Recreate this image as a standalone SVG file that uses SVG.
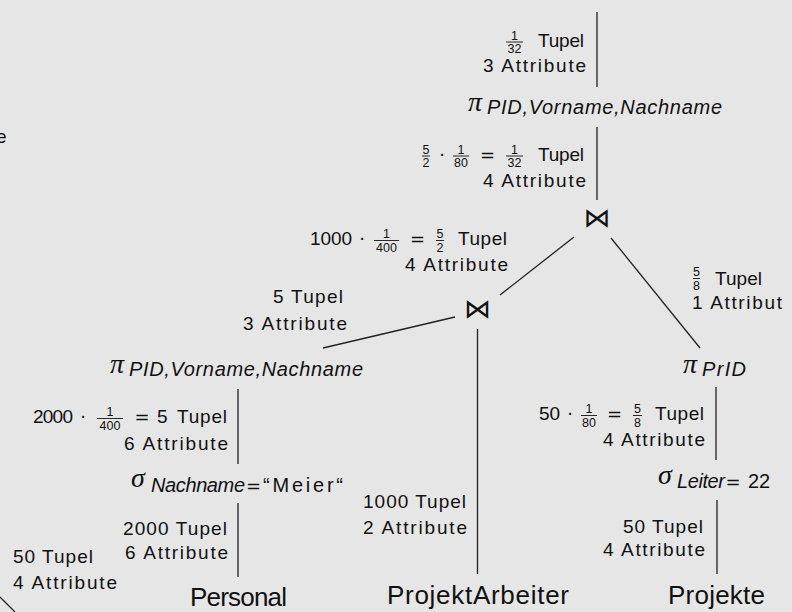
<svg xmlns="http://www.w3.org/2000/svg" width="792" height="612" viewBox="0 0 792 612">
<style>
.t{font-family:"Liberation Sans",Arial,sans-serif;font-size:19px;fill:#111}
.fr{font-size:12.5px;text-anchor:middle}
.it{font-style:italic;font-size:20px}
.g{font-family:"Liberation Serif","Times New Roman",serif;font-style:italic;font-size:28px;fill:#111}
.big{font-size:26px}
.sym{font-family:"DejaVu Sans",sans-serif;font-size:18px;fill:#111;text-anchor:middle}
.bow{font-family:"DejaVu Sans",sans-serif;font-size:27px;fill:#111;text-anchor:middle}
.ln{stroke:#222;stroke-width:1.3;fill:none}
.bar{stroke:#111;stroke-width:0.9}
</style>
<rect width="792" height="612" fill="#e6e6e6"/>

<g id="connectors">
<line class="ln" x1="597" y1="12" x2="597" y2="87"/>
<line class="ln" x1="597" y1="127" x2="597" y2="200"/>
<line class="ln" x1="574" y1="237" x2="500" y2="295"/>
<line class="ln" x1="611" y1="238" x2="700" y2="348"/>
<line class="ln" x1="455" y1="317" x2="323" y2="348"/>
<line class="ln" x1="477.5" y1="329" x2="477.5" y2="574"/>
<line class="ln" x1="238" y1="389" x2="238" y2="464"/>
<line class="ln" x1="238" y1="503" x2="238" y2="577"/>
<line class="ln" x1="716" y1="387" x2="716" y2="460"/>
<line class="ln" x1="717" y1="500" x2="717" y2="574"/>
<line class="ln" x1="0" y1="597" x2="15" y2="612"/>
</g>

<g id="partial-left">
<text class="t" x="-4" y="143">e</text>
</g>

<g id="label-top">
<text class="t fr" x="514.5" y="39.5">1</text><line class="bar" x1="506" y1="42" x2="523" y2="42"/><text class="t fr" x="514.5" y="53">32</text>
<text class="t" x="538" y="46.5" textLength="46" lengthAdjust="spacing">Tupel</text>
<text class="t" x="483" y="71.5" textLength="103" lengthAdjust="spacing">3 Attribute</text>
</g>

<g id="proj-top">
<text class="g" x="468" y="110.5">π</text>
<text class="t it" x="487" y="114" textLength="235" lengthAdjust="spacing">PID,Vorname,Nachname</text>
</g>

<g id="label-b">
<text class="t fr" x="426" y="153.5">5</text><line class="bar" x1="422" y1="156" x2="430" y2="156"/><text class="t fr" x="426" y="167">2</text>
<text class="sym" x="442" y="160.5">·</text>
<text class="t fr" x="461" y="153.5">1</text><line class="bar" x1="453" y1="156" x2="469" y2="156"/><text class="t fr" x="461" y="167">80</text>
<text class="sym" x="487.5" y="160.5">=</text>
<text class="t fr" x="514.5" y="153.5">1</text><line class="bar" x1="506" y1="156" x2="523" y2="156"/><text class="t fr" x="514.5" y="167">32</text>
<text class="t" x="538" y="160.5" textLength="46" lengthAdjust="spacing">Tupel</text>
<text class="t" x="483" y="187" textLength="103" lengthAdjust="spacing">4 Attribute</text>
</g>

<g id="join-top">
<text class="bow" x="597" y="227">⋈</text>
</g>

<g id="label-c">
<text class="t" x="310" y="245" textLength="42" lengthAdjust="spacing">1000</text>
<text class="sym" x="362" y="245">·</text>
<text class="t fr" x="386.5" y="238">1</text><line class="bar" x1="374" y1="240.5" x2="399" y2="240.5"/><text class="t fr" x="386.5" y="251.5">400</text>
<text class="sym" x="417.5" y="245">=</text>
<text class="t fr" x="440" y="238">5</text><line class="bar" x1="436" y1="240.5" x2="444" y2="240.5"/><text class="t fr" x="440" y="251.5">2</text>
<text class="t" x="458" y="245" textLength="49" lengthAdjust="spacing">Tupel</text>
<text class="t" x="405" y="271" textLength="103" lengthAdjust="spacing">4 Attribute</text>
</g>

<g id="label-d">
<text class="t fr" x="696.5" y="276">5</text><line class="bar" x1="693" y1="278.5" x2="700" y2="278.5"/><text class="t fr" x="696.5" y="289.5">8</text>
<text class="t" x="715" y="285" textLength="47" lengthAdjust="spacing">Tupel</text>
<text class="t" x="692" y="309" textLength="90" lengthAdjust="spacing">1 Attribut</text>
</g>

<g id="label-e">
<text class="t" x="273" y="303" textLength="70" lengthAdjust="spacing">5 Tupel</text>
<text class="t" x="243" y="330" textLength="104" lengthAdjust="spacing">3 Attribute</text>
</g>

<g id="join-mid">
<text class="bow" x="477.5" y="318">⋈</text>
</g>

<g id="proj-left">
<text class="g" x="110" y="372.5">π</text>
<text class="t it" x="129" y="376" textLength="234" lengthAdjust="spacing">PID,Vorname,Nachname</text>
</g>

<g id="proj-right">
<text class="g" x="683" y="372.5">π</text>
<text class="t it" x="702" y="376" textLength="44" lengthAdjust="spacing">PrID</text>
</g>

<g id="label-g">
<text class="t" x="33" y="423" textLength="40" lengthAdjust="spacing">2000</text>
<text class="sym" x="83" y="423">·</text>
<text class="t fr" x="110" y="416">1</text><line class="bar" x1="97" y1="418.5" x2="123" y2="418.5"/><text class="t fr" x="110" y="429.5">400</text>
<text class="sym" x="142" y="423">=</text>
<text class="t" x="157" y="423">5</text>
<text class="t" x="177" y="423" textLength="50" lengthAdjust="spacing">Tupel</text>
<text class="t" x="124" y="449.5" textLength="104" lengthAdjust="spacing">6 Attribute</text>
</g>

<g id="label-h">
<text class="t" x="539" y="420">50</text>
<text class="sym" x="570" y="420">·</text>
<text class="t fr" x="589" y="413">1</text><line class="bar" x1="581" y1="415.5" x2="597" y2="415.5"/><text class="t fr" x="589" y="426.5">80</text>
<text class="sym" x="614.5" y="420">=</text>
<text class="t fr" x="637.5" y="413">5</text><line class="bar" x1="633" y1="415.5" x2="642" y2="415.5"/><text class="t fr" x="637.5" y="426.5">8</text>
<text class="t" x="655" y="420" textLength="49" lengthAdjust="spacing">Tupel</text>
<text class="t" x="603" y="445.5" textLength="102" lengthAdjust="spacing">4 Attribute</text>
</g>

<g id="sel-left">
<text class="g" x="131" y="487">σ</text>
<text class="t it" x="151" y="492" textLength="94" lengthAdjust="spacing">Nachname</text>
<text class="sym" x="253.5" y="492">=</text>
<text class="t" x="263" y="492" style="font-size:20px" textLength="80" lengthAdjust="spacing">“Meier“</text>
</g>

<g id="sel-right">
<text class="g" x="658" y="484">σ</text>
<text class="t it" x="677" y="488" textLength="48" lengthAdjust="spacing">Leiter</text>
<text class="sym" x="733" y="488">=</text>
<text class="t" x="748" y="488" style="font-size:20px">22</text>
</g>

<g id="labels-bottom">
<text class="t" x="123" y="535" textLength="104" lengthAdjust="spacing">2000 Tupel</text>
<text class="t" x="125" y="559" textLength="103" lengthAdjust="spacing">6 Attribute</text>
<text class="t" x="363" y="508" textLength="103" lengthAdjust="spacing">1000 Tupel</text>
<text class="t" x="363" y="534" textLength="104" lengthAdjust="spacing">2 Attribute</text>
<text class="t" x="623" y="533" textLength="80" lengthAdjust="spacing">50 Tupel</text>
<text class="t" x="603" y="556" textLength="102" lengthAdjust="spacing">4 Attribute</text>
<text class="t" x="13" y="563" textLength="80" lengthAdjust="spacing">50 Tupel</text>
<text class="t" x="13" y="589" textLength="104" lengthAdjust="spacing">4 Attribute</text>
</g>

<g id="personal"><text class="t big" x="190" y="606" textLength="97" lengthAdjust="spacing">Personal</text></g>
<g id="projektarbeiter"><text class="t big" x="387" y="604" textLength="182" lengthAdjust="spacing">ProjektArbeiter</text></g>
<g id="projekte"><text class="t big" x="668" y="604" textLength="97" lengthAdjust="spacing">Projekte</text></g>
</svg>
